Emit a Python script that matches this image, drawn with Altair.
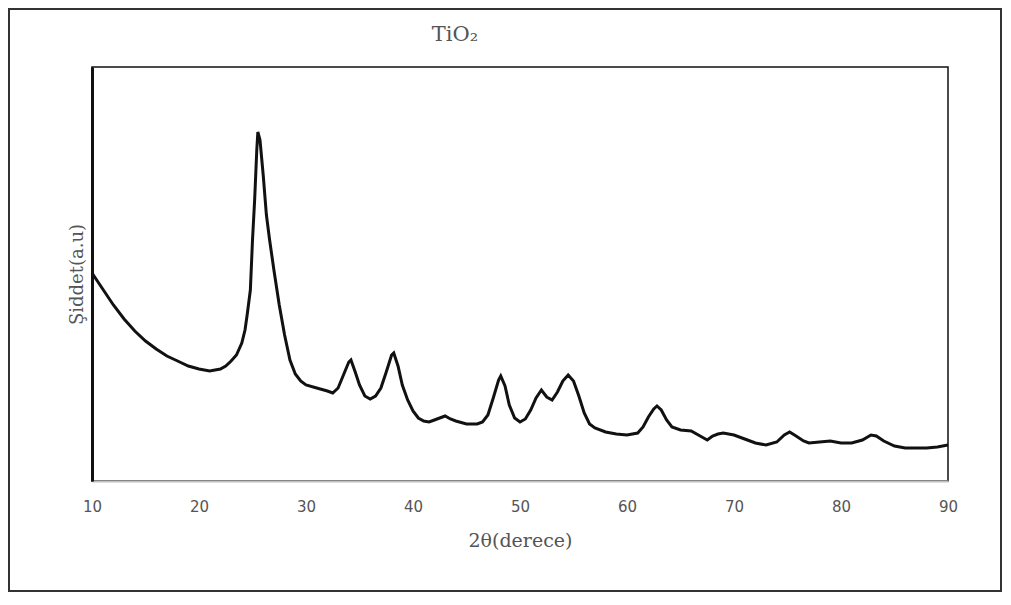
import altair as alt
import pandas as pd

# 2theta (degrees) and intensity (a.u.)
two_theta = [10.0, 10.5, 11, 12, 13, 14, 15, 16, 17, 18, 19, 20, 21, 22, 22.5, 23, 23.5, 24, 24.3, 24.5,
             24.8, 25.0, 25.2, 25.4, 25.5, 25.7, 26.0, 26.3, 26.6, 27.0, 27.5, 28.0, 28.5, 29.0, 29.5,
             30, 31, 32, 32.5, 33, 33.5, 34.0, 34.2, 34.6, 35.0, 35.5, 36.0, 36.5, 37.0, 37.5, 38.0,
             38.2, 38.6, 39.0, 39.5, 40.0, 40.5, 41.0, 41.5, 42.0, 42.5, 43.0, 43.5, 44, 45, 46, 46.5,
             47, 47.5, 48.0, 48.2, 48.6, 49.0, 49.5, 50.0, 50.5, 51.0, 51.5, 52.0, 52.5, 53.0, 53.5,
             54.0, 54.5, 55.0, 55.5, 56.0, 56.5, 57, 58, 59, 60, 61, 61.5, 62, 62.5, 62.8, 63.2, 63.7,
             64.2, 65, 66, 67, 67.5, 68, 68.5, 69, 70, 71, 72, 73, 74, 74.7, 75.2, 75.8, 76.5, 77, 78,
             79, 80, 81, 82, 82.8, 83.3, 84, 85, 86, 87, 88, 89, 90]
pix = [273, 281, 289, 305, 319, 331, 341, 349, 356, 361, 366, 369, 371, 369, 366, 361, 355, 343, 330, 315,
       290, 240, 200, 150, 132, 140, 175, 215, 240, 270, 305, 335, 360, 374, 381,
       385, 388, 391, 393, 388, 375, 362, 360, 372, 385, 396, 399, 396, 388, 372, 355,
       353, 366, 385, 400, 411, 418, 421, 422, 420, 418, 416, 419, 421, 424, 424, 422,
       415, 398, 380, 376, 386, 405, 418, 422, 419, 410, 398, 390, 397, 400, 392,
       381, 375, 381, 396, 413, 424, 428, 432, 434, 435, 433, 427, 417, 409, 406, 410, 420,
       427, 430, 431, 437, 440, 436, 434, 433, 435, 439, 443, 445, 442, 435, 432, 436, 441, 443, 442,
       441, 443, 443, 440, 435, 436, 441, 446, 448, 448, 448, 447, 445]
intensity = [481 - p for p in pix]

chart_title = "TiO₂"
x_title = "2θ(derece)"
y_title = "Şiddet(a.u)"
x_ticks = [10, 20, 30, 40, 50, 60, 70, 80, 90]

df = pd.DataFrame({"theta": two_theta, "I": intensity})

serif = "DejaVu Serif"

line = alt.Chart(df).mark_line(color="#111111", strokeWidth=3).encode(
    x=alt.X("theta:Q",
            scale=alt.Scale(domain=[10, 90], nice=False),
            axis=alt.Axis(values=x_ticks, ticks=False, grid=False, labelFlush=False,
                          domainColor="#c0c0c0", domainWidth=2,
                          labelFont="DejaVu Sans", labelFontSize=15, labelColor="#555555",
                          labelPadding=18,
                          title=x_title, titleFont=serif, titleFontSize=19,
                          titleFontWeight="normal", titleColor="#555555", titlePadding=17)),
    y=alt.Y("I:Q",
            scale=alt.Scale(domain=[0, 414], nice=False),
            axis=alt.Axis(labels=False, ticks=False, grid=False, domainColor="#111111",
                          domainWidth=3,
                          title=y_title, titleFont=serif, titleFontSize=18,
                          titleFontWeight="normal", titleColor="#555555", titlePadding=6)),
)

title_text = alt.Chart(alt.Data(values=[{"t": chart_title}])).mark_text(
    font=serif, fontSize=21, color="#555555", align="center", baseline="middle"
).encode(text="t:N", x=alt.value(363), y=alt.value(-32))

frame = alt.Chart(alt.Data(values=[{"f": 1}])).mark_rect(
    fill=None, filled=False, stroke="#333333", strokeWidth=2
).encode(
    x=alt.value(-83), x2=alt.value(909), y=alt.value(-58), y2=alt.value(524)
)

chart = alt.layer(line, title_text, frame).properties(
    width=856,
    height=414,
    autosize=alt.AutoSizeParams(type="none"),
    padding={"left": 84, "top": 59, "right": 55, "bottom": 112},
).configure_view(stroke="#111111", strokeWidth=1.5)

chart.save("out.html", embed_options={"renderer": "svg", "actions": False})
